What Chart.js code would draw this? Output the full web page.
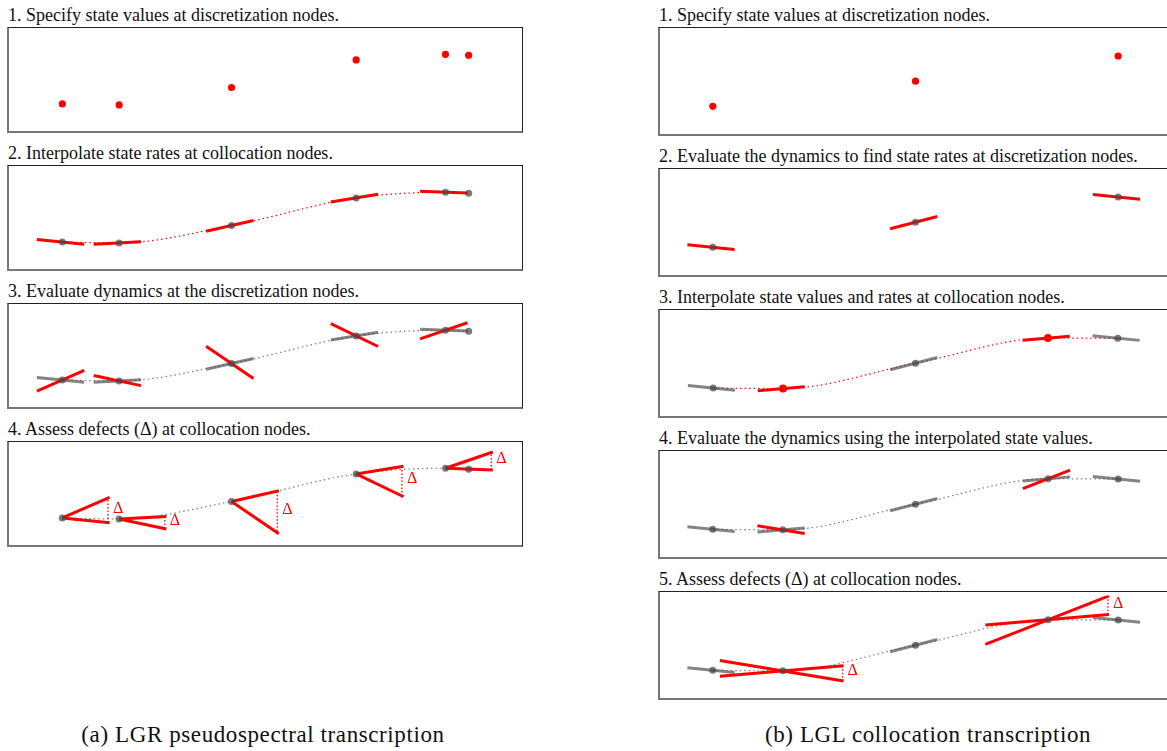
<!DOCTYPE html>
<html>
<head>
<meta charset="utf-8">
<script src="https://cdn.jsdelivr.net/npm/chart.js@4.4.1/dist/chart.umd.min.js"></script>
<style>
  html, body { margin: 0; padding: 0; background: #fff; overflow: hidden; }
  body { width: 1167px; height: 751px; position: relative; font-family: "Liberation Serif", "Times New Roman", serif; color: #111; }
  .title { position: absolute; font-size: 18px; line-height: 20px; white-space: nowrap; }
  .box { position: absolute; width: 516px; box-sizing: border-box;
         border-top: 1px solid #222; border-right: 1px solid #222;
         border-left: 2px solid #777; border-bottom: 2px solid #777; }
  .box canvas { display: block; }
  .caption { position: absolute; top: 722px; font-size: 23px; line-height: 26px; letter-spacing: 0.6px; white-space: nowrap; text-align: center; width: 500px; }
</style>
</head>
<body>
<div class="caption" style="left:13px">(a) LGR pseudospectral transcription</div>
<div class="caption" style="left:678px">(b) LGL collocation transcription</div>
<script>
// LGR transcription: discretization nodes, the last (tau = 1) is not collocated
const lgrTau = [-1, -0.7205, -0.1672, 0.4463, 0.8858, 1];
const lgrState = [0.25, 0.24, 0.418, 0.70, 0.758, 0.748];
// slope of the interpolant and dynamics at the collocation nodes (first five)
const lgrInterpRate = [-0.21, 0.11, 0.47, 0.34, -0.08];
const lgrDynRate = [0.90, -0.44, -1.41, -1.0, 0.71];

// LGL transcription: 3 discretization nodes, 2 collocation nodes between them
const lglTau = [-1, -0.6547, 0, 0.6547, 1];
const lglState = [0.253, 0.248, 0.50, 0.75, 0.748];
const lglDisc = [0, 2, 4];
const lglColl = [1, 3];
const lglDiscRate = [-0.2, 0.52, -0.2];
const lglInterpRate = [0.17, 0.17];
const lglDynRate = [-0.33, 0.78];

const leftTitles = [
  '1. Specify state values at discretization nodes.',
  '2. Interpolate state rates at collocation nodes.',
  '3. Evaluate dynamics at the discretization nodes.',
  '4. Assess defects (\u0394) at collocation nodes.'
];
const rightTitles = [
  '1. Specify state values at discretization nodes.',
  '2. Evaluate the dynamics to find state rates at discretization nodes.',
  '3. Interpolate state values and rates at collocation nodes.',
  '4. Evaluate the dynamics using the interpolated state values.',
  '5. Assess defects (\u0394) at collocation nodes.'
];

const RED = '#ff0000';
const GRAY = 'rgba(80,80,80,0.7)';
const DOT_GRAY = 'rgba(70,70,70,0.72)';
const CURVE_GRAY = 'rgba(110,110,110,0.9)';

const SEG = [-0.125, 0.108];   // tangent extent around a node
const WEDGE_L = [0, 0.233];    // defect wedge, LGR
const DROP_L = 0.225;
const WEDGE_R = [-0.31, 0.30]; // defect lines, LGL
const DROP_R = 0.295;

function pick(arr, idx) { return idx.map(i => arr[i]); }
function pts(xs, ys) { return xs.map((x, i) => ({ x: x, y: ys[i] })); }

function dots(xs, ys, color, r) {
  return { data: pts(xs, ys), showLine: false, pointRadius: r, pointHoverRadius: r,
           pointBackgroundColor: color, pointBorderWidth: 0, order: 0 };
}
function curve(xs, ys, color) {
  return { data: pts(xs, ys), showLine: true, borderColor: color, borderWidth: 1.2,
           borderDash: [1.5, 3], pointRadius: 0, cubicInterpolationMode: 'monotone', order: 4 };
}
function tangents(xs, ys, rates, ext, color) {
  return xs.map((t, i) => ({
    data: [{ x: t + ext[0], y: ys[i] + rates[i] * ext[0] }, { x: t + ext[1], y: ys[i] + rates[i] * ext[1] }],
    showLine: true, borderColor: color, borderWidth: 3, pointRadius: 0, tension: 0,
    order: color === RED ? 1 : 2
  }));
}
function drops(xs, ys, r1, r2, dx) {
  return xs.map((t, i) => ({
    data: [{ x: t + dx, y: ys[i] + r1[i] * dx }, { x: t + dx, y: ys[i] + r2[i] * dx }],
    showLine: true, borderColor: RED, borderWidth: 1.3, borderDash: [1.5, 2],
    pointRadius: 0, order: 1
  }));
}
function deltaSpots(xs, ys, r1, r2, dx) {
  return xs.map((t, i) => ({ x: t + dx, y: ys[i] + (r1[i] + r2[i]) * dx / 2 }));
}

// draws the red delta next to each defect
const deltaLabels = {
  id: 'deltaLabels',
  afterDatasetsDraw(chart, args, opts) {
    if (!opts.spots) return;
    const ctx = chart.ctx;
    ctx.save();
    ctx.fillStyle = RED;
    ctx.font = '16px "Liberation Serif", serif';
    ctx.textBaseline = 'middle';
    opts.spots.forEach(s => {
      ctx.fillText('\u0394', chart.scales.x.getPixelForValue(s.x) + 5, chart.scales.y.getPixelForValue(s.y) - 2);
    });
    ctx.restore();
  }
};

function panel(left, top, height, title, xr, yr, datasets, spots) {
  const t = document.createElement('div');
  t.className = 'title';
  t.style.left = (left + 1) + 'px';
  t.style.top = (top - 22) + 'px';
  t.textContent = title;
  document.body.appendChild(t);

  const box = document.createElement('div');
  box.className = 'box';
  box.style.left = left + 'px';
  box.style.top = top + 'px';
  box.style.height = height + 'px';
  const cv = document.createElement('canvas');
  cv.width = 516 - 3;
  cv.height = height - 3;
  box.appendChild(cv);
  document.body.appendChild(box);

  new Chart(cv, {
    type: 'scatter',
    data: { datasets: datasets },
    options: {
      responsive: false,
      animation: false,
      events: [],
      layout: { padding: 0 },
      plugins: { legend: { display: false }, tooltip: { enabled: false }, deltaLabels: { spots: spots } },
      scales: {
        x: { type: 'linear', min: xr[0], max: xr[1], display: false },
        y: { type: 'linear', min: yr[0], max: yr[1], display: false }
      }
    },
    plugins: [deltaLabels]
  });
}

// ---- left column: LGR pseudospectral ----
const LX = [-1.245, 1.245], LY = [0.01, 0.99];
const lTops = [27, 165, 303, 441];
const collTau = lgrTau.slice(0, 5), collState = lgrState.slice(0, 5);

panel(7, lTops[0], 106, leftTitles[0], LX, LY, [dots(lgrTau, lgrState, RED, 3.6)]);

panel(7, lTops[1], 106, leftTitles[1], LX, LY, [
  dots(lgrTau, lgrState, DOT_GRAY, 3.5),
  ...tangents(collTau, collState, lgrInterpRate, SEG, RED),
  curve(lgrTau, lgrState, RED)
]);

panel(7, lTops[2], 106, leftTitles[2], LX, LY, [
  dots(lgrTau, lgrState, DOT_GRAY, 3.5),
  ...tangents(collTau, collState, lgrDynRate, SEG, RED),
  ...tangents(collTau, collState, lgrInterpRate, SEG, GRAY),
  curve(lgrTau, lgrState, CURVE_GRAY)
]);

panel(7, lTops[3], 106, leftTitles[3], LX, LY, [
  dots(lgrTau, lgrState, DOT_GRAY, 3.5),
  ...tangents(collTau, collState, lgrDynRate, WEDGE_L, RED),
  ...tangents(collTau, collState, lgrInterpRate, WEDGE_L, RED),
  ...drops(collTau, collState, lgrInterpRate, lgrDynRate, DROP_L),
  curve(lgrTau, lgrState, CURVE_GRAY)
], deltaSpots(collTau, collState, lgrInterpRate, lgrDynRate, DROP_L));

// ---- right column: LGL collocation ----
const RX = [-1.243, 1.253], RY = [0.016, 0.988];
const rTops = [27, 168, 309, 450, 591];
const dTau = pick(lglTau, lglDisc), dState = pick(lglState, lglDisc);
const cTau = pick(lglTau, lglColl), cState = pick(lglState, lglColl);

panel(658, rTops[0], 109, rightTitles[0], RX, RY, [dots(dTau, dState, RED, 3.6)]);

panel(658, rTops[1], 109, rightTitles[1], RX, RY, [
  dots(dTau, dState, DOT_GRAY, 3.5),
  ...tangents(dTau, dState, lglDiscRate, SEG, RED)
]);

panel(658, rTops[2], 109, rightTitles[2], RX, RY, [
  dots(cTau, cState, RED, 4),
  dots(dTau, dState, DOT_GRAY, 3.5),
  ...tangents(cTau, cState, lglInterpRate, SEG, RED),
  ...tangents(dTau, dState, lglDiscRate, SEG, GRAY),
  curve(lglTau, lglState, RED)
]);

panel(658, rTops[3], 109, rightTitles[3], RX, RY, [
  dots(lglTau, lglState, DOT_GRAY, 3.5),
  ...tangents(cTau, cState, lglDynRate, SEG, RED),
  ...tangents(cTau, cState, lglInterpRate, SEG, GRAY),
  ...tangents(dTau, dState, lglDiscRate, SEG, GRAY),
  curve(lglTau, lglState, CURVE_GRAY)
]);

panel(658, rTops[4], 109, rightTitles[4], RX, RY, [
  dots(lglTau, lglState, DOT_GRAY, 3.5),
  ...tangents(cTau, cState, lglDynRate, WEDGE_R, RED),
  ...tangents(cTau, cState, lglInterpRate, WEDGE_R, RED),
  ...drops(cTau, cState, lglInterpRate, lglDynRate, DROP_R),
  ...tangents(dTau, dState, lglDiscRate, SEG, GRAY),
  curve(lglTau, lglState, CURVE_GRAY)
], deltaSpots(cTau, cState, lglInterpRate, lglDynRate, DROP_R));
</script>
</body>
</html>
